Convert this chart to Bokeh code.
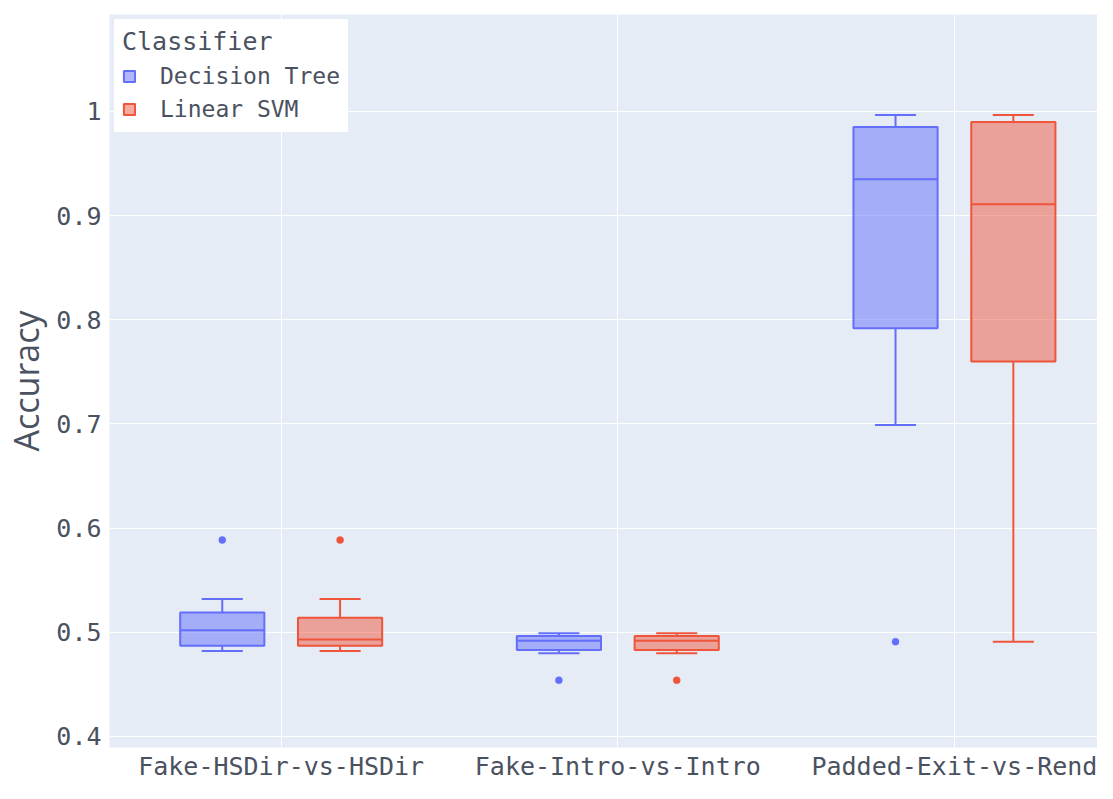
from bokeh.plotting import figure
from bokeh.models import (Range1d, FixedTicker, ColumnDataSource, Legend, LegendItem,
                          CustomJSTickFormatter)
from bokeh.transform import dodge
from bokeh.embed import file_html
from bokeh.resources import INLINE

# ---- data -------------------------------------------------------------
categories = ["Fake-HSDir-vs-HSDir", "Fake-Intro-vs-Intro", "Padded-Exit-vs-Rend"]
classifiers = ["Decision Tree", "Linear SVM"]
y_ticks = [0.4, 0.5, 0.6, 0.7, 0.8, 0.9, 1.0]

dt_lower = [0.482, 0.480, 0.699]
dt_q1 = [0.487, 0.483, 0.792]
dt_median = [0.502, 0.492, 0.935]
dt_q3 = [0.519, 0.4965, 0.985]
dt_upper = [0.532, 0.499, 0.9965]
dt_outlier_cat = [0, 1, 2]
dt_outliers = [0.5886, 0.454, 0.491]

svm_lower = [0.482, 0.480, 0.491]
svm_q1 = [0.487, 0.483, 0.760]
svm_median = [0.493, 0.492, 0.911]
svm_q3 = [0.514, 0.4965, 0.990]
svm_upper = [0.532, 0.499, 0.9965]
svm_outlier_cat = [0, 1]
svm_outliers = [0.5886, 0.454]

colors = ["#636EFA", "#EF553B"]
cat_index = list(range(len(categories)))

MONO = "DejaVu Sans Mono"
TXT = "#4a5160"

p = figure(width=1097, height=783, output_backend="svg", toolbar_location=None,
           x_range=Range1d(-0.51, 2.425), y_range=Range1d(0.3894, 1.0931),
           min_border_left=100, min_border_top=14, min_border_right=0, min_border_bottom=20)
p.background_fill_color = "#E5ECF6"
p.border_fill_color = "white"
p.outline_line_color = None

p.xgrid.grid_line_color = "white"
p.ygrid.grid_line_color = "white"
p.xgrid.grid_line_width = 1
p.ygrid.grid_line_width = 1

p.xaxis.ticker = FixedTicker(ticks=cat_index)
p.xaxis.major_label_overrides = {i: c for i, c in enumerate(categories)}
p.yaxis.ticker = FixedTicker(ticks=y_ticks)
p.yaxis.formatter = CustomJSTickFormatter(code="return String(Number(tick.toFixed(2)))")
for ax in (p.xaxis[0], p.yaxis[0]):
    ax.axis_line_color = None
    ax.major_tick_line_color = None
    ax.minor_tick_line_color = None
    ax.major_tick_out = 0
    ax.major_tick_in = 0
    ax.minor_tick_out = 0
    ax.minor_tick_in = 0
    ax.major_label_text_font = MONO
    ax.major_label_text_font_size = "25px"
    ax.major_label_text_color = TXT
p.xaxis.major_label_standoff = 4
p.yaxis.major_label_standoff = 8
p.yaxis.axis_label = "Accuracy"
p.yaxis.axis_label_text_font = "Open Sans"
p.yaxis.axis_label_text_font_style = "normal"
p.yaxis.axis_label_text_font_size = "34px"
p.yaxis.axis_label_text_color = TXT
p.yaxis.axis_label_standoff = 4

OFF = 0.175
BW = 0.25
CAP = 0.061


def draw(color, off, lower, q1, med, q3, upper, ocat, ovals):
    src = ColumnDataSource(dict(x=cat_index, lower=lower, q1=q1, med=med, q3=q3, upper=upper))
    kw = dict(source=src, line_color=color, line_width=2)
    p.segment(x0=dodge("x", off), y0="q3", x1=dodge("x", off), y1="upper", **kw)
    p.segment(x0=dodge("x", off), y0="q1", x1=dodge("x", off), y1="lower", **kw)
    p.segment(x0=dodge("x", off - CAP), y0="upper", x1=dodge("x", off + CAP), y1="upper", **kw)
    p.segment(x0=dodge("x", off - CAP), y0="lower", x1=dodge("x", off + CAP), y1="lower", **kw)
    box = p.vbar(x=dodge("x", off), width=BW, bottom="q1", top="q3", fill_color=color,
                 fill_alpha=0.5, **kw)
    p.segment(x0=dodge("x", off - BW / 2), y0="med", x1=dodge("x", off + BW / 2), y1="med", **kw)
    osrc = ColumnDataSource(dict(x=ocat, y=ovals))
    p.scatter(x=dodge("x", off), y="y", source=osrc, size=7, fill_color=color,
              line_color=color, line_width=0.5)
    return box


b1 = draw(colors[0], -OFF, dt_lower, dt_q1, dt_median, dt_q3, dt_upper, dt_outlier_cat, dt_outliers)
b2 = draw(colors[1], OFF, svm_lower, svm_q1, svm_median, svm_q3, svm_upper, svm_outlier_cat, svm_outliers)

legend = Legend(items=[LegendItem(label=classifiers[0], renderers=[b1]),
                       LegendItem(label=classifiers[1], renderers=[b2])],
                location="top_left", title="Classifier")
legend.title_text_font = MONO
legend.title_text_font_size = "25px"
legend.title_text_font_style = "normal"
legend.title_text_color = TXT
legend.title_standoff = 5
legend.label_text_font = MONO
legend.label_text_font_size = "23px"
legend.label_text_color = TXT
legend.background_fill_color = "white"
legend.background_fill_alpha = 1
legend.border_line_alpha = 0
legend.padding = 8
legend.spacing = 3
legend.margin = 5
legend.glyph_width = 14
legend.glyph_height = 14
legend.label_height = 30
legend.label_standoff = 24
p.add_layout(legend)

open("out.html", "w").write(file_html(p, INLINE))
